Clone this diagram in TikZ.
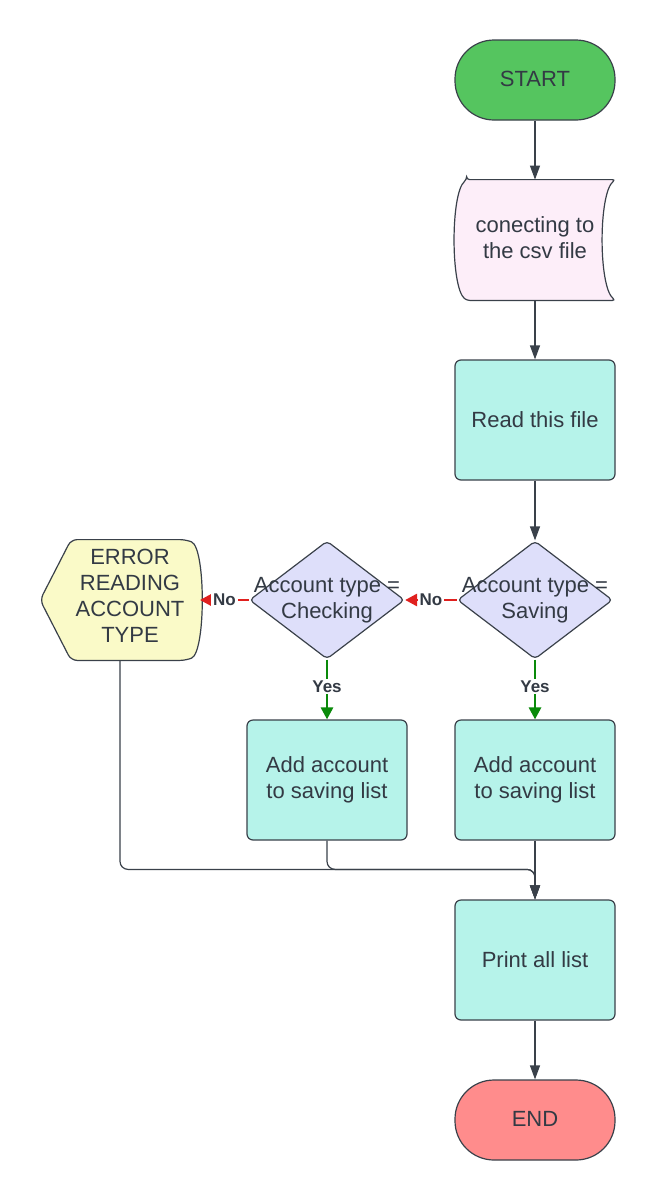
\documentclass[tikz,border=0pt]{standalone}
\usepackage{fontspec}
\setmainfont{Liberation Sans}
\usetikzlibrary{shapes.geometric,arrows.meta,calc,backgrounds}
\definecolor{strokec}{HTML}{3A414A}
\definecolor{textc}{HTML}{333A44}
\definecolor{startc}{HTML}{55C55F}
\definecolor{endc}{HTML}{FF8C8C}
\definecolor{procc}{HTML}{B6F3EA}
\definecolor{decc}{HTML}{DEDFFA}
\definecolor{errc}{HTML}{FAFAC8}
\definecolor{csvc}{HTML}{FDEEF9}
\definecolor{noc}{HTML}{E0201E}
\definecolor{yesc}{HTML}{0A8A0A}
\begin{document}
\begin{tikzpicture}[x=0.5pt,y=-0.5pt,
  font=\fontsize{11}{13}\selectfont,
  base/.style={draw=strokec, line width=0.6pt, text=textc, align=center},
  proc/.style={base, rectangle, rounded corners=3pt, fill=procc, minimum width=80pt, minimum height=60pt, inner sep=2pt},
  term/.style={base, rectangle, rounded corners=19.5pt, minimum width=80pt, minimum height=40pt},
  dec/.style={base, diamond, fill=decc, minimum width=77.5pt, minimum height=59pt, inner sep=0pt, rounded corners=2pt},
  holder/.style={rectangle, text=textc, align=center, inner sep=0pt},
  arr/.style={draw=strokec, line width=0.6pt, -{Triangle[length=7pt,width=5pt]}},
  noarr/.style={draw=noc, line width=1.4pt, -{Triangle[length=6pt,width=6pt]}},
  yesarr/.style={draw=yesc, line width=1.4pt, -{Triangle[length=6pt,width=6pt]}},
  lab/.style={font=\fontsize{8.5}{9}\selectfont\bfseries, text=textc, fill=white, inner sep=1pt},
  dlab/.style={text=textc, align=center}
]
\useasboundingbox (0,0) rectangle (655,1200);

\node[term, fill=startc] (start) at (535,80) {\raisebox{1pt}{START}};
\node[holder, minimum width=80pt, minimum height=60pt] (csv) at (535,240) {\raisebox{2pt}{\begin{tabular}{@{}c@{}}conecting to\\the csv file\end{tabular}}};
\node[proc] (read) at (535,420) {Read this file};
\node[dec, label={[dlab]center:Account type =\\Saving}] (sav) at (535,600) {};
\node[dec, label={[dlab]center:Account type =\\Checking}] (chk) at (327,600) {};
\node[holder, minimum width=79.5pt, minimum height=60pt,
      label={[dlab, xshift=5pt, yshift=2pt]center:ERROR\\READING\\ACCOUNT\\TYPE}] (err) at (120,600) {};
\node[proc] (add2) at (327,780) {Add account\\to saving list};
\node[proc] (add1) at (535,780) {Add account\\to saving list};
\node[proc] (print) at (535,960) {Print all list};
\node[term, fill=endc] (end) at (535,1120) {\raisebox{1pt}{END}};

\begin{scope}[on background layer]
  \fill[white] (0,0) rectangle (655,1200);
  \filldraw[fill=csvc, draw=strokec, line width=0.6pt, rounded corners=1.5pt]
    ($(csv.north west)+(12,0)$) -- (csv.north east)
    .. controls ($(csv.north east)+(-17,14)$) and ($(csv.south east)+(-17,-14)$) .. (csv.south east)
    -- ($(csv.south west)+(12,0)$)
    .. controls ($(csv.south west)+(-4,-14)$) and ($(csv.north west)+(-4,14)$) .. cycle;
  \filldraw[fill=errc, draw=strokec, line width=0.6pt, rounded corners=3pt]
    ($(err.north west)+(31,0)$) -- ($(err.north east)+(-14,0)$)
    .. controls ($(err.north east)+(6,8)$) and ($(err.south east)+(6,-8)$) .. ($(err.south east)+(-14,0)$)
    -- ($(err.south west)+(31,0)$) -- (err.west) -- cycle;
\end{scope}

\draw[arr] (start) -- (csv);
\draw[arr] (csv) -- (read);
\draw[arr] (read) -- (sav);
\draw[noarr] (sav.west) -- node[lab]{No} (chk.east);
\draw[noarr] (chk.west) -- node[lab]{No} (err.east);
\draw[yesarr] (sav.south) -- node[lab, pos=0.45]{Yes} (add1.north);
\draw[yesarr] (chk.south) -- node[lab, pos=0.45]{Yes} (add2.north);
\draw[arr] (add1) -- (print);
\draw[arr, rounded corners=4pt] (add2.south) |- ($(print.north)+(0,-30)$) -- (print.north);
\draw[arr, rounded corners=4pt] (err.south) |- ($(print.north)+(0,-30)$) -- (print.north);
\draw[arr] (print) -- (end);
\end{tikzpicture}
\end{document}
